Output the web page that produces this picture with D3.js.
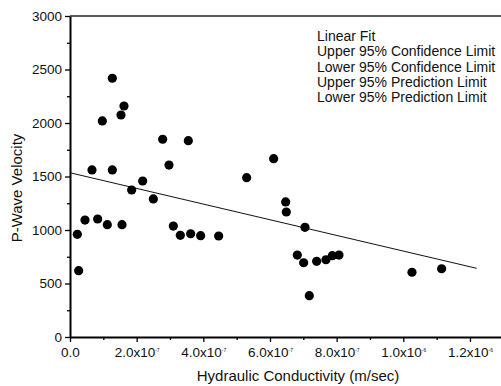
<!DOCTYPE html>
<html>
<head>
<meta charset="utf-8">
<script src="https://cdn.jsdelivr.net/npm/d3@7"></script>
<style>
  body { margin: 0; background: #fff; }
  svg { display: block; font-family: "Liberation Sans", Arial, sans-serif; }
</style>
</head>
<body>
<script>
// hydraulic conductivity, in units of 1e-7 m/sec
let conductivity = [0.22, 0.26, 0.45, 0.66, 0.83, 0.97, 1.12, 1.27, 1.27, 1.53,
  1.56, 1.62, 1.85, 2.18, 2.5, 2.78, 2.97, 3.1, 3.31, 3.55, 3.62, 3.92, 4.46,
  5.3, 6.11, 6.47, 6.49, 6.82, 7.01, 7.05, 7.18, 7.4, 7.68, 7.87, 8.07, 10.26, 11.15];
let velocity = [960, 620, 1093, 1561, 1103, 2019, 1050, 2418, 1561, 2075,
  1050, 2159, 1374, 1458, 1290, 1848, 1607, 1037, 950, 1835, 965, 947, 944,
  1489, 1667, 1262, 1168, 766, 694, 1025, 386, 707, 722, 760, 766, 605, 638];

let fitX = [0, 12.2];
let fitIntercept = 1535;
let fitSlope = -73.2;

let legendItems = ["Linear Fit", "Upper 95% Confidence Limit", "Lower 95% Confidence Limit",
  "Upper 95% Prediction Limit", "Lower 95% Prediction Limit"];

let xTicks = [0, 2, 4, 6, 8, 10, 12];
let xTickBase = ["0.0", "2.0x10", "4.0x10", "6.0x10", "8.0x10", "1.0x10", "1.2x10"];
let xTickExp = ["", "-7", "-7", "-7", "-7", "-6", "-6"];
let yTicks = [0, 500, 1000, 1500, 2000, 2500, 3000];

let width = 501;
let height = 386;

let svg = d3.select("body")
  .append("svg")
  .attr("width", width)
  .attr("height", height);

let xScale = d3.scaleLinear()
  .domain([0, 13])
  .range([70, 503.3]);

let yScale = d3.scaleLinear()
  .domain([0, 3000])
  .range([337, 16]);

// minor ticks first
svg.append("g")
  .attr("transform", "translate(0,337)")
  .call(d3.axisBottom(xScale).tickValues(d3.range(1, 13, 2)).tickSize(3).tickFormat(""))
  .call(g => g.select(".domain").remove());

svg.append("g")
  .attr("transform", "translate(70,0)")
  .call(d3.axisLeft(yScale).tickValues(d3.range(250, 3000, 500)).tickSize(3).tickFormat(""))
  .call(g => g.select(".domain").remove());

let gxAxis = svg.append("g")
  .attr("id", "x-axis")
  .attr("transform", "translate(0,337)")
  .call(d3.axisBottom(xScale)
    .tickValues(xTicks)
    .tickSize(5)
    .tickPadding(5)
    .tickSizeOuter(0)
    .tickFormat((d, i) => xTickBase[i]));

gxAxis.selectAll(".tick text")
  .attr("font-size", 13.5)
  .attr("fill", "#111")
  .each(function (d, i) {
    if (xTickExp[i]) {
      d3.select(this).append("tspan")
        .attr("font-size", 5)
        .attr("dy", "-1em")
        .text(xTickExp[i]);
    }
  });

let gyAxis = svg.append("g")
  .attr("id", "y-axis")
  .attr("transform", "translate(70,0)")
  .call(d3.axisLeft(yScale)
    .tickValues(yTicks)
    .tickSize(5)
    .tickPadding(3)
    .tickSizeOuter(0)
    .tickFormat(d3.format("d")));

gyAxis.selectAll(".tick text")
  .attr("font-size", 13.5)
  .attr("fill", "#111");

svg.selectAll(".domain").attr("stroke-width", 2);
svg.selectAll(".tick line").attr("stroke-width", 1.3);

// top frame line
svg.append("line")
  .attr("x1", xScale(0))
  .attr("x2", width)
  .attr("y1", yScale(3000))
  .attr("y2", yScale(3000))
  .attr("stroke", "#222")
  .attr("stroke-width", 1.5);

// linear fit
svg.append("line")
  .attr("x1", xScale(fitX[0]))
  .attr("y1", yScale(fitIntercept + fitSlope * fitX[0]))
  .attr("x2", xScale(fitX[1]))
  .attr("y2", yScale(fitIntercept + fitSlope * fitX[1]))
  .attr("stroke", "#111")
  .attr("stroke-width", 1);

svg.append("g")
  .selectAll("circle")
  .data(conductivity)
  .join("circle")
  .attr("cx", d => xScale(d))
  .attr("cy", (d, i) => yScale(velocity[i]))
  .attr("r", 4.6)
  .attr("fill", "#000");

svg.append("g")
  .selectAll("text")
  .data(legendItems)
  .join("text")
  .attr("x", 317)
  .attr("y", (d, i) => 41 + i * 15.3)
  .attr("font-size", 14)
  .attr("fill", "#111")
  .text(d => d);

svg.append("text")
  .attr("x", 298)
  .attr("y", 381)
  .attr("text-anchor", "middle")
  .attr("font-size", 15)
  .attr("fill", "#111")
  .text("Hydraulic Conductivity (m/sec)");

svg.append("text")
  .attr("transform", "translate(22,188) rotate(-90)")
  .attr("text-anchor", "middle")
  .attr("font-size", 15)
  .attr("fill", "#111")
  .text("P-Wave Velocity");
</script>
</body>
</html>
